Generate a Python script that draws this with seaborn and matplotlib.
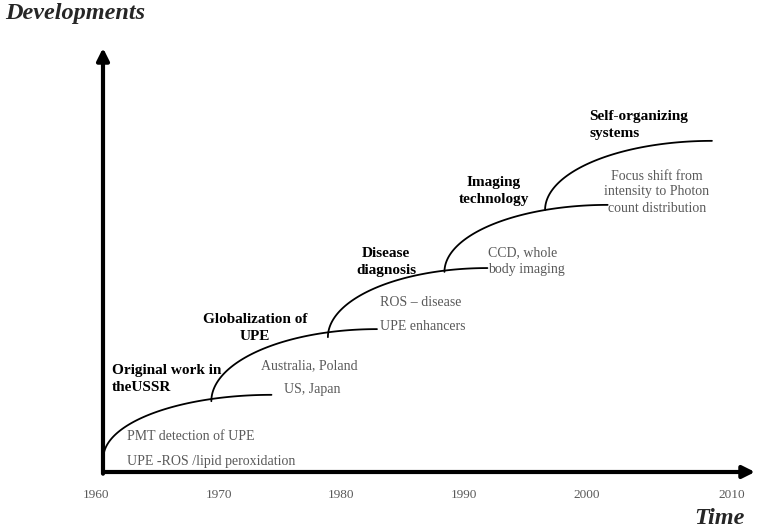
import numpy as np
import pandas as pd
import matplotlib
matplotlib.use("Agg")
import matplotlib.pyplot as plt
import matplotlib.transforms as mtransforms
import seaborn as sns

# ---- data ----
stages = ["Original work in\ntheUSSR", "Globalization of\nUPE", "Disease\ndiagnosis",
          "Imaging\ntechnology", "Self-organizing\nsystems"]
start_year = [1960.6, 1969.4, 1978.9, 1988.4, 1996.6]
start_level = [3.3, 16.7, 31.8, 47.2, 61.8]
end_year = [1974.3, 1982.9, 1991.9, 2001.7, 2010.2]
end_level = [18.2, 33.7, 48.1, 63.0, 78.1]
tick_years = [1960, 1970, 1980, 1990, 2000, 2010]
tick_labels = ["1960", "1970", "1980", "1990", "2000", "2010"]

notes = ["PMT detection of UPE", "UPE -ROS /lipid peroxidation", "Australia, Poland",
         "US, Japan", "ROS \u2013 disease", "UPE enhancers", "CCD, whole\nbody imaging",
         "Focus shift from\nintensity to Photon\ncount distribution"]

sns.set_theme(style="white")
plt.rcParams["font.family"] = ["Liberation Serif", "DejaVu Serif"]

W, H = 758, 531
fig = plt.figure(figsize=(W / 100, H / 100), dpi=100)
# axes box: x from px 103 to 755, y from px 48 to 472
ax = fig.add_axes([103 / W, 1 - 472 / H, (755 - 103) / W, (472 - 48) / H])

# curves: quarter-ellipse arcs from start to end of each stage
rows = []
t = np.linspace(0, np.pi / 2, 120)
for i, s in enumerate(stages):
    x0, y0, x1, y1 = start_year[i], start_level[i], end_year[i], end_level[i]
    xs = x1 - (x1 - x0) * np.cos(t)
    ys = y0 + (y1 - y0) * np.sin(t)
    rows.append(pd.DataFrame({"year": xs, "level": ys, "stage": i}))
df = pd.concat(rows, ignore_index=True)
sns.lineplot(data=df, x="year", y="level", units="stage", estimator=None, sort=False,
             color="black", lw=1.3, ax=ax)

for sp in ax.spines.values():
    sp.set_visible(False)
ax.set_xlabel("")
ax.set_ylabel("")
ax.set_xticks([])
ax.set_yticks([])
ax.set_xlim(1960.57, 2013.71)
ax.set_ylim(0, 100)

# year labels (the 2010 label sits further right in the reference)
trans = mtransforms.blended_transform_factory(ax.transData, ax.transAxes)
for k, (yr, lab) in enumerate(zip(tick_years, tick_labels)):
    xpos = yr + (1.8 if k == len(tick_years) - 1 else 0.0)
    ax.text(xpos, -23 / 424, lab, transform=trans, ha="center", va="center",
            fontsize=9.5, color="#595959", clip_on=False)

# axis arrows
ax.annotate("", xy=(1.0, 0), xytext=(0, 0), xycoords="axes fraction",
            arrowprops=dict(arrowstyle="-|>", lw=3, color="black", mutation_scale=18,
                            shrinkA=0, shrinkB=0), annotation_clip=False)
ax.annotate("", xy=(0, 1.0), xytext=(0, -0.004), xycoords="axes fraction",
            arrowprops=dict(arrowstyle="-|>", lw=3, color="black", mutation_scale=18,
                            shrinkA=0, shrinkB=0), annotation_clip=False)

def ft(x, y, s, **kw):
    fig.text(x / W, 1 - y / H, s, **kw)

ft(5, 14, "Developments", fontsize=17.5, fontweight="bold", style="italic", va="center", ha="left")
ft(745, 519, "Time", fontsize=17.5, fontweight="bold", style="italic", va="center", ha="right")

bold = dict(fontsize=11, fontweight="bold", color="black", va="center", linespacing=1.4)
ft(112, 379, stages[0], ha="left", **bold)
ft(255, 328, stages[1], ha="center", multialignment="center", **bold)
ft(386, 262, stages[2], ha="center", multialignment="center", **bold)
ft(494, 191, stages[3], ha="center", multialignment="center", **bold)
ft(589, 125, stages[4], ha="left", **bold)

reg = dict(fontsize=10, color="#595959", va="center", linespacing=1.3)
ft(127, 437, notes[0], ha="left", **reg)
ft(127, 461, notes[1], ha="left", **reg)
ft(309, 366, notes[2], ha="center", **reg)
ft(312, 390, notes[3], ha="center", **reg)
ft(380, 302, notes[4], ha="left", **reg)
ft(380, 327, notes[5], ha="left", **reg)
ft(488, 261, notes[6], ha="left", **reg)
ft(657, 192, notes[7], ha="center", multialignment="center", **reg)

fig.savefig("out.png", dpi=100)
